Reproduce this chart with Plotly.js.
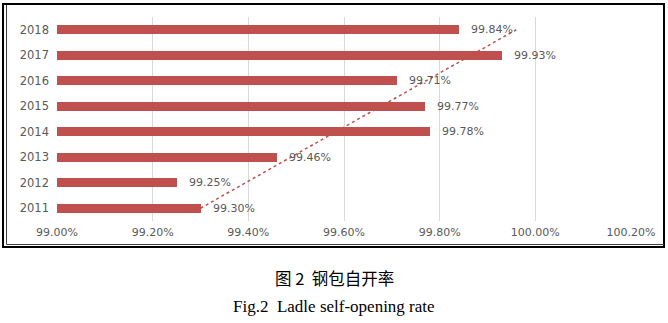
<!DOCTYPE html>
<html>
<head>
<meta charset="utf-8">
<script src="https://cdn.plot.ly/plotly-3.0.1.min.js"></script>
<style>
  html, body { margin: 0; padding: 0; background: #ffffff; }
  #chart { width: 668px; height: 323px; }
</style>
</head>
<body>
<div id="chart"></div>
<script>
// ---- data ----
const years = ['2011', '2012', '2013', '2014', '2015', '2016', '2017', '2018'];
const rates = [99.30, 99.25, 99.46, 99.78, 99.77, 99.71, 99.93, 99.84];
const rateLabels = ['99.30%', '99.25%', '99.46%', '99.78%', '99.77%', '99.71%', '99.93%', '99.84%'];
const trendYears = ['2011', '2018'];
const trendValues = [99.30, 99.96];
const xTickVals = [99.0, 99.2, 99.4, 99.6, 99.8, 100.0, 100.2];
const xTickText = ['99.00%', '99.20%', '99.40%', '99.60%', '99.80%', '100.00%', '100.20%'];
const captionCn = '图 2  钢包自开率';
const captionEn = 'Fig.2  Ladle self-opening rate';

// ---- styling ----
const barColor = '#C0504D';
const textGray = '#595959';
const fontFam = 'DejaVu Sans, Verdana, sans-serif';

// plot area geometry in pixels
const W = 668, H = 323;
const mL = 57, mR = 37, mT = 17, mB = 102;
const pw = W - mL - mR, ph = H - mT - mB;
const px = v => (v - mL) / pw;            // page x -> paper x
const py = v => (H - mB - v) / ph;        // page y -> paper y

const bars = {
  type: 'bar',
  orientation: 'h',
  x: rates,
  y: years,
  base: 0,
  marker: { color: barColor },
  width: 0.34,
  hoverinfo: 'skip',
  showlegend: false
};

const trend = {
  type: 'scatter',
  mode: 'lines',
  x: trendValues,
  y: trendYears,
  line: { color: barColor, width: 1.5, dash: 'dot' },
  hoverinfo: 'skip',
  showlegend: false
};

// on a category axis, annotation positions are category indices
const labelAnns = rates.map((v, i) => ({
  x: v, y: years.indexOf(years[i]), xref: 'x', yref: 'y',
  text: rateLabels[i], showarrow: false,
  xanchor: 'left', yanchor: 'middle', xshift: 10,
  font: { family: fontFam, size: 11, color: textGray }
}));

const captionAnns = [
  { x: px(334), y: py(278), xref: 'paper', yref: 'paper', text: captionCn, showarrow: false,
    xanchor: 'center', yanchor: 'middle',
    font: { family: 'Noto Sans CJK SC, sans-serif', size: 16.5, color: '#000000' } },
  { x: px(334), y: py(306), xref: 'paper', yref: 'paper', text: captionEn, showarrow: false,
    xanchor: 'center', yanchor: 'middle',
    font: { family: 'Liberation Serif, Times New Roman, serif', size: 17, color: '#000000' } }
];

const shapes = [
  // outer black frame
  { type: 'rect', xref: 'paper', yref: 'paper',
    x0: px(3), x1: px(664), y0: py(247), y1: py(4),
    line: { color: '#000000', width: 2 }, fillcolor: 'rgba(0,0,0,0)' },
  // inner thin lines (left and bottom)
  { type: 'line', xref: 'paper', yref: 'paper',
    x0: px(6.5), x1: px(6.5), y0: py(244.5), y1: py(5),
    line: { color: '#404040', width: 1 } },
  { type: 'line', xref: 'paper', yref: 'paper',
    x0: px(6.5), x1: px(664), y0: py(244.5), y1: py(244.5),
    line: { color: '#404040', width: 1 } }
];

const layout = {
  width: W, height: H,
  margin: { l: mL, r: mR, t: mT, b: mB, pad: 0 },
  paper_bgcolor: '#ffffff',
  plot_bgcolor: '#ffffff',
  bargap: 0,
  xaxis: {
    range: [99.0, 100.2],
    tickvals: xTickVals,
    ticktext: xTickText,
    showgrid: true,
    gridcolor: '#d9d9d9',
    gridwidth: 1,
    zeroline: false,
    showline: false,
    ticks: '',
    tickfont: { family: fontFam, size: 11, color: textGray },
    ticklabelstandoff: 3,
    fixedrange: true
  },
  yaxis: {
    type: 'category',
    categoryorder: 'array',
    categoryarray: years,
    range: [-0.5, 7.5],
    showgrid: false,
    zeroline: false,
    showline: false,
    ticks: '',
    tickfont: { family: fontFam, size: 11.5, color: textGray },
    ticklabelstandoff: 7,
    fixedrange: true
  },
  annotations: labelAnns.concat(captionAnns),
  shapes: shapes,
  showlegend: false
};

Plotly.newPlot('chart', [bars, trend], layout, { displayModeBar: false, staticPlot: true });
</script>
</body>
</html>
